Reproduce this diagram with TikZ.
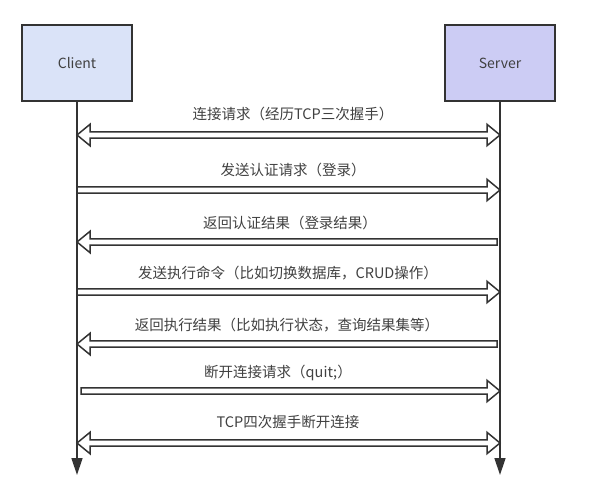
\documentclass[tikz,border=0pt]{standalone}
\usepackage{fontspec}
\setmainfont{Noto Sans CJK SC}
\usetikzlibrary{arrows.meta,calc}
\definecolor{linegray}{HTML}{333333}
\definecolor{textgray}{HTML}{404040}
\definecolor{clientblue}{HTML}{DAE3F8}
\definecolor{serverblue}{HTML}{CCCCF4}
\tikzset{
  box/.style={draw=linegray, line width=1.8pt, minimum width=110pt, minimum height=76pt,
    text=textgray, font=\fontsize{14}{16}\selectfont},
  lifeline/.style={draw=linegray, line width=1.4pt, -{Triangle[length=17pt,width=11pt]}},
  msg/.style={text=textgray, font=\fontsize{14.5}{16}\selectfont},
  fatline/.style={draw=linegray, fill=white, line width=1.5pt, line join=miter},
  fatone/.style={fatline, to path={
      ($(\tikztostart)+(0,3.2pt)$)
      -- ($(\tikztotarget)!13pt!(\tikztostart)+(0,3.2pt)$)
      -- ($(\tikztotarget)!13pt!(\tikztostart)+(0,10.7pt)$)
      -- (\tikztotarget)
      -- ($(\tikztotarget)!13pt!(\tikztostart)+(0,-10.7pt)$)
      -- ($(\tikztotarget)!13pt!(\tikztostart)+(0,-3.2pt)$)
      -- ($(\tikztostart)+(0,-3.2pt)$) -- cycle}},
  fatboth/.style={fatline, to path={
      ($(\tikztostart)!13pt!(\tikztotarget)+(0,3.2pt)$)
      -- ($(\tikztotarget)!13pt!(\tikztostart)+(0,3.2pt)$)
      -- ($(\tikztotarget)!13pt!(\tikztostart)+(0,10.7pt)$)
      -- (\tikztotarget)
      -- ($(\tikztotarget)!13pt!(\tikztostart)+(0,-10.7pt)$)
      -- ($(\tikztotarget)!13pt!(\tikztostart)+(0,-3.2pt)$)
      -- ($(\tikztostart)!13pt!(\tikztotarget)+(0,-3.2pt)$)
      -- ($(\tikztostart)!13pt!(\tikztotarget)+(0,-10.7pt)$)
      -- (\tikztostart)
      -- ($(\tikztostart)!13pt!(\tikztotarget)+(0,10.7pt)$) -- cycle}},
}
\begin{document}
\begin{tikzpicture}[x=1pt, y=-1pt]
  \useasboundingbox (0,0) rectangle (590,500);
  % the two parties
  \node[box, fill=clientblue] (client) at (77,63) {Client};
  \node[box, fill=serverblue] (server) at (500,63) {Server};
  \coordinate (cend) at (77,475);
  \coordinate (send) at (500,475);
  \draw[lifeline] (client.south) -- (cend);
  \draw[lifeline] (server.south) -- (send);
  % points on the lifelines
  \coordinate (c1) at (77,135);  \coordinate (s1) at (500,135);
  \coordinate (c2) at (77,190);  \coordinate (s2) at (500,190);
  \coordinate (c3) at (77,242);  \coordinate (s3) at (497,242);
  \coordinate (c4) at (77,292);  \coordinate (s4) at (500,292);
  \coordinate (c5) at (77,344);  \coordinate (s5) at (497,344);
  \coordinate (c6) at (81,391);  \coordinate (s6) at (500,391);
  \coordinate (c7) at (77,443);  \coordinate (s7) at (500,443);
  % messages
  \draw[fatboth] (c1) to (s1);
  \node[msg] (connect) at (293,114) {连接请求（经历TCP三次握手）};
  \draw[fatone] (c2) to (s2);
  \node[msg] (login) at (293,170) {发送认证请求（登录）};
  \draw[fatone] (s3) to (c3);
  \node[msg] (loginres) at (290,223) {返回认证结果（登录结果）};
  \draw[fatone] (c4) to (s4);
  \node[msg] (command) at (288,273) {发送执行命令（比如切换数据库，CRUD操作）};
  \draw[fatone] (s5) to (c5);
  \node[msg] (result) at (287,325) {返回执行结果（比如执行状态，查询结果集等）};
  \draw[fatone] (c6) to (s6);
  \node[msg] (quit) at (278,373) {断开连接请求（quit;）};
  \draw[fatboth] (c7) to (s7);
  \node[msg] (close) at (288,422) {TCP四次握手断开连接};
\end{tikzpicture}
\end{document}
